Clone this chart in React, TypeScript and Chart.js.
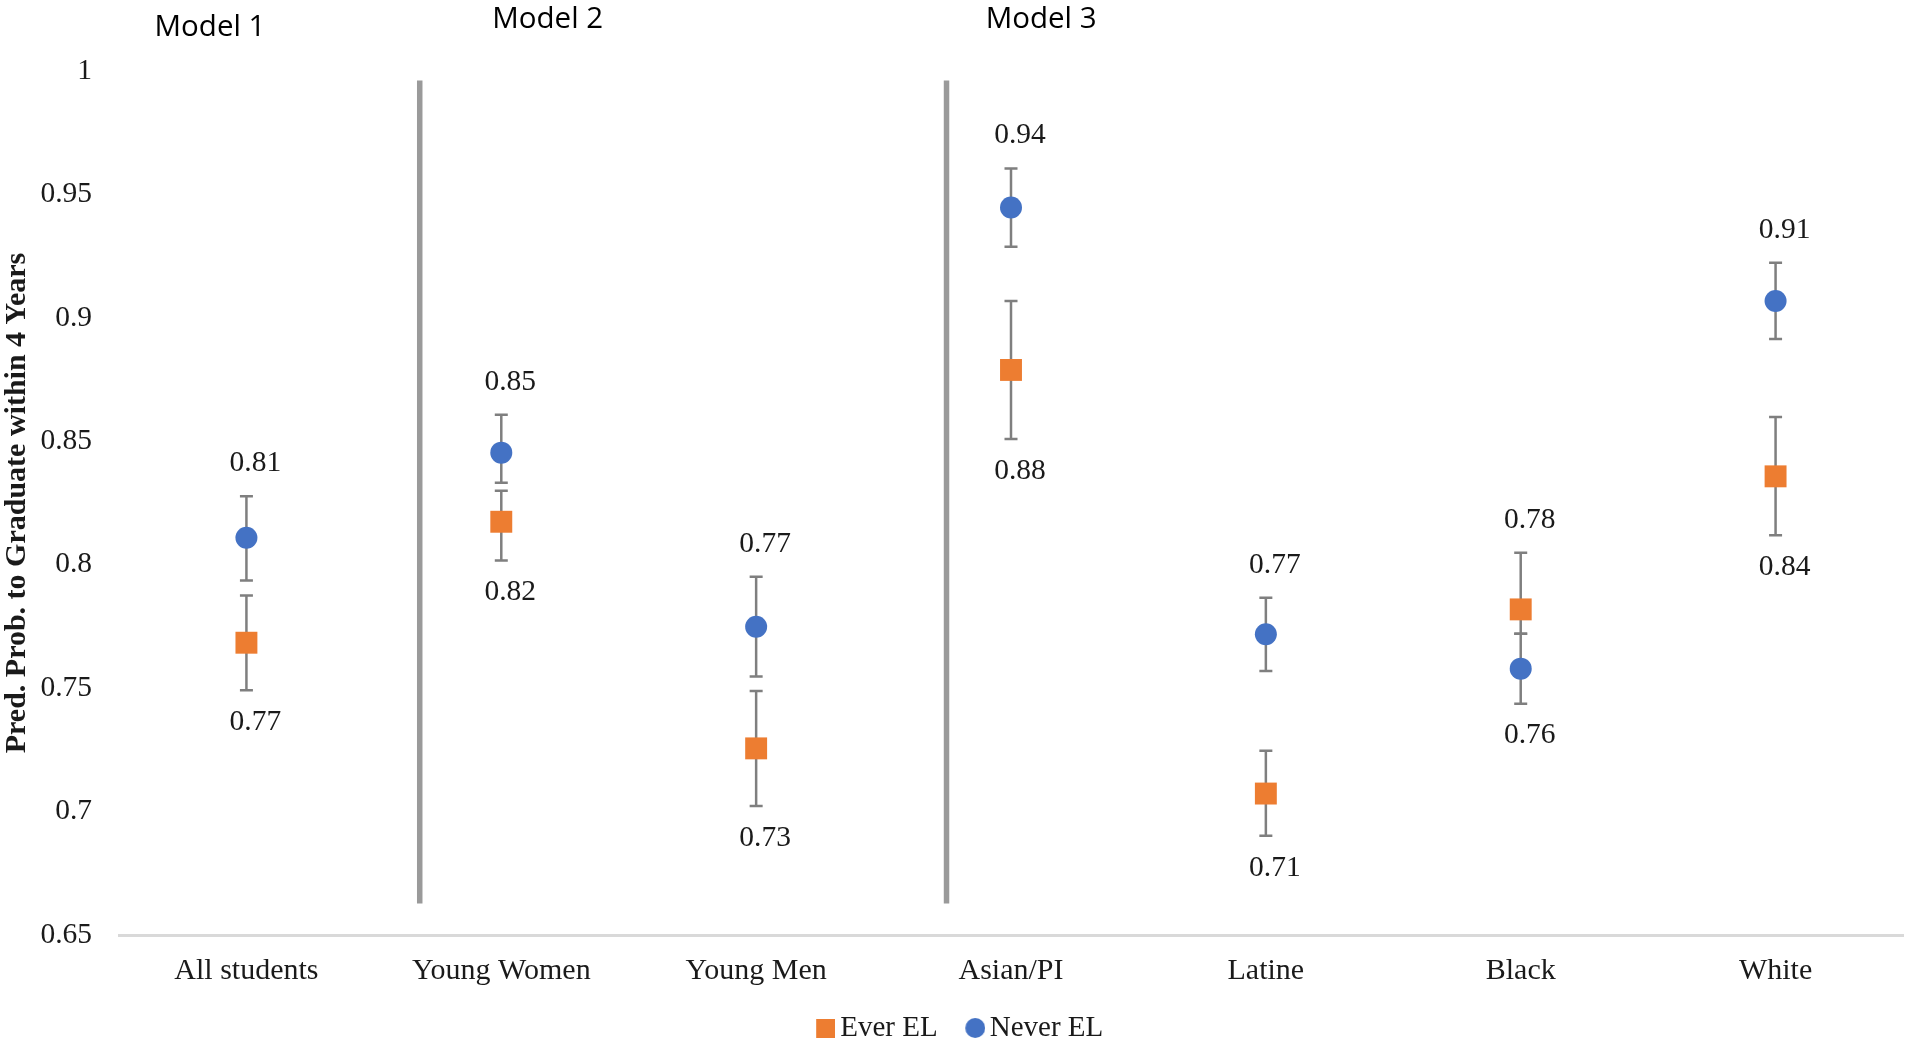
import React, { useEffect, useRef } from "react";
import { Chart, registerables } from "chart.js";

Chart.register(...registerables);

// ---- data ----
const categories = ["All students", "Young Women", "Young Men", "Asian/PI", "Latine", "Black", "White"];
const everEL = [0.7684, 0.8174, 0.7256, 0.8789, 0.7073, 0.7819, 0.8358];
const everLow = [0.7491, 0.8017, 0.7023, 0.8509, 0.6902, 0.772, 0.8119];
const everHigh = [0.7875, 0.83, 0.7488, 0.9068, 0.7246, 0.8048, 0.8598];
const neverEL = [0.8109, 0.8454, 0.7749, 0.9447, 0.7718, 0.7579, 0.9068];
const neverLow = [0.7936, 0.8332, 0.7547, 0.9288, 0.7569, 0.7437, 0.8914];
const neverHigh = [0.8277, 0.8607, 0.7951, 0.9605, 0.7866, 0.772, 0.9223];
const yTicks = [0.65, 0.7, 0.75, 0.8, 0.85, 0.9, 0.95, 1];
const seriesNames = ["Ever EL", "Never EL"];
const modelNames = ["Model 1", "Model 2", "Model 3"];
const modelAnchors = [-0.143, 1.182, 3.118]; // x in category units
const separatorAt = [0.68, 2.747]; // x in category units
const separatorRange = [0.6628, 0.9962]; // y range in value units

const ORANGE = "#ED7D31";
const BLUE = "#4472C4";
const SERIF = '"Liberation Serif", "Times New Roman", serif';
const SANS = '"Open Sans", "Liberation Sans", sans-serif';
const TEXT = "#1a1a1a";

export default function App() {
  const ref = useRef<HTMLCanvasElement | null>(null);

  useEffect(() => {
    document.body.style.margin = "0";
    if (!ref.current) return;

    // legend marker images (marker drawn right of the image centre)
    const squareImg = document.createElement("canvas");
    squareImg.width = 32;
    squareImg.height = 19;
    const sctx = squareImg.getContext("2d")!;
    sctx.fillStyle = ORANGE;
    sctx.fillRect(13, 0, 19, 19);

    const circleImg = document.createElement("canvas");
    circleImg.width = 33;
    circleImg.height = 20;
    const cctx = circleImg.getContext("2d")!;
    cctx.fillStyle = BLUE;
    cctx.beginPath();
    cctx.arc(23, 10, 10, 0, Math.PI * 2);
    cctx.fill();

    const lows = [everLow, neverLow];
    const highs = [everHigh, neverHigh];

    const annotations = {
      id: "annotations",
      beforeDatasetsDraw(chart: any) {
        const { ctx } = chart;
        const x = chart.scales.x;
        const y = chart.scales.y;
        ctx.save();
        ctx.strokeStyle = "#9a9a9a";
        ctx.lineWidth = 5.5;
        ctx.lineCap = "butt";
        separatorAt.forEach((sx) => {
          const px = x.getPixelForValue(sx);
          ctx.beginPath();
          ctx.moveTo(px, y.getPixelForValue(separatorRange[1]));
          ctx.lineTo(px, y.getPixelForValue(separatorRange[0]));
          ctx.stroke();
        });
        ctx.strokeStyle = "#7f7f7f";
        ctx.lineWidth = 2.5;
        const cap = 6.5;
        for (let s = 0; s < 2; s++) {
          categories.forEach((_, i) => {
            const px = x.getPixelForValue(i);
            const pl = y.getPixelForValue(lows[s][i]);
            const ph = y.getPixelForValue(highs[s][i]);
            ctx.beginPath();
            ctx.moveTo(px, ph);
            ctx.lineTo(px, pl);
            ctx.moveTo(px - cap, ph);
            ctx.lineTo(px + cap, ph);
            ctx.moveTo(px - cap, pl);
            ctx.lineTo(px + cap, pl);
            ctx.stroke();
          });
        }
        ctx.restore();
      },
      afterDatasetsDraw(chart: any) {
        const { ctx } = chart;
        const x = chart.scales.x;
        const y = chart.scales.y;
        ctx.save();
        ctx.font = `29.5px ${SERIF}`;
        ctx.fillStyle = TEXT;
        ctx.textAlign = "center";
        ctx.textBaseline = "middle";
        categories.forEach((_, i) => {
          const px = x.getPixelForValue(i) + 9;
          const neverTop = neverEL[i] >= everEL[i];
          const vals = [everEL[i], neverEL[i]];
          for (let s = 0; s < 2; s++) {
            const isTop = s === 1 ? neverTop : !neverTop;
            const py = isTop
              ? y.getPixelForValue(highs[s][i]) - 33
              : y.getPixelForValue(lows[s][i]) + 32;
            ctx.fillText(vals[s].toFixed(2), px, py);
          }
        });
        ctx.font = `29.5px ${SANS}`;
        ctx.fillStyle = "#000";
        ctx.textBaseline = "alphabetic";
        const baselines = [36, 28, 28];
        modelNames.forEach((m, k) => {
          ctx.fillText(m, x.getPixelForValue(modelAnchors[k]), baselines[k]);
        });
        ctx.restore();
      },
    };

    const chart = new Chart(ref.current, {
      type: "scatter",
      data: {
        datasets: [
          {
            label: seriesNames[0],
            data: everEL.map((v, i) => ({ x: i, y: v })),
            pointStyle: "rect",
            pointRadius: 15.5,
            backgroundColor: ORANGE,
            borderColor: ORANGE,
            borderWidth: 0,
          },
          {
            label: seriesNames[1],
            data: neverEL.map((v, i) => ({ x: i, y: v })),
            pointStyle: "circle",
            pointRadius: 11,
            backgroundColor: BLUE,
            borderColor: BLUE,
            borderWidth: 0,
          },
        ],
      },
      options: {
        animation: false,
        responsive: true,
        maintainAspectRatio: false,
        events: [],
        layout: { autoPadding: false, padding: { left: 12.9, right: 4, top: 71, bottom: -8.5 } },
        scales: {
          x: {
            type: "linear",
            min: -0.5,
            max: 6.5,
            afterBuildTicks: (scale: any) => {
              scale.ticks = categories.map((_, i) => ({ value: i }));
            },
            afterFit: (scale: any) => {
              scale.height = 54;
              scale.paddingLeft = 0;
              scale.paddingRight = 0;
            },
            grid: { display: false, drawTicks: false },
            border: { display: true, color: "#d9d9d9", width: 3 },
            ticks: {
              padding: 18.5,
              color: TEXT,
              font: { family: SERIF, size: 30 },
              maxRotation: 0,
              autoSkip: false,
              callback: (v: any) => categories[Math.round(Number(v))] ?? "",
            },
          },
          y: {
            min: 0.65,
            max: 1,
            afterBuildTicks: (scale: any) => {
              scale.ticks = yTicks.map((v) => ({ value: v }));
            },
            afterFit: (scale: any) => {
              scale.width = 106.1;
            },
            grid: { display: false, drawTicks: false },
            border: { display: false },
            ticks: {
              padding: 27,
              color: TEXT,
              font: { family: SERIF, size: 29.5 },
              callback: (v: any) => String(Number(v)),
            },
            title: {
              display: true,
              text: "Pred. Prob. to Graduate within 4 Years",
              color: TEXT,
              font: { family: SERIF, size: 30, weight: "bold" },
              padding: { top: -13.9, bottom: 0 },
            },
          },
        },
        plugins: {
          tooltip: { enabled: false },
          legend: {
            display: true,
            position: "bottom",
            labels: {
              usePointStyle: true,
              pointStyleWidth: 13.1,
              padding: 24.5,
              color: TEXT,
              font: { family: SERIF, size: 29 },
              generateLabels: (ch: any) => {
                const items = (Chart.defaults as any).plugins.legend.labels.generateLabels(ch);
                return items.map((it: any, i: number) => ({
                  ...it,
                  pointStyle: i === 0 ? squareImg : circleImg,
                }));
              },
            },
          },
        },
      } as any,
      plugins: [annotations],
    });

    return () => chart.destroy();
  }, []);

  return (
    <div style={{ width: 1907, height: 1044, position: "relative" }}>
      <canvas ref={ref} />
    </div>
  );
}
